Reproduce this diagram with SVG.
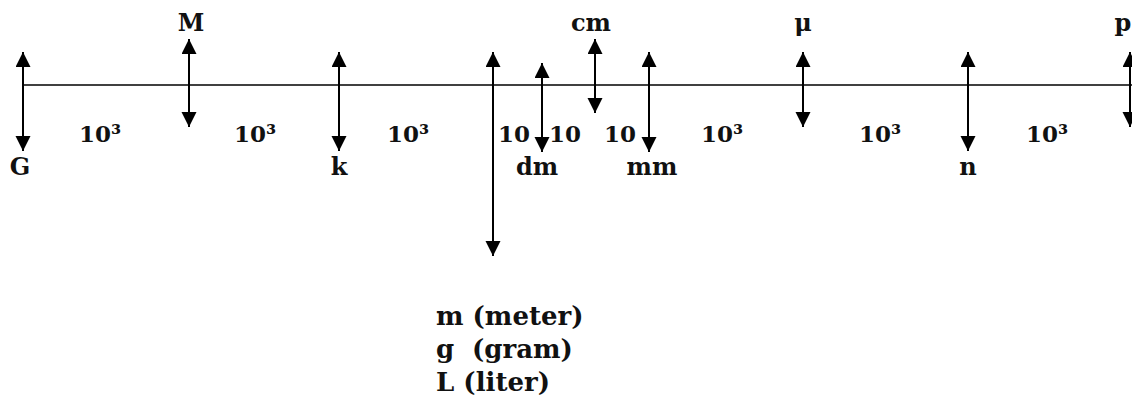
<svg xmlns="http://www.w3.org/2000/svg" width="1132" height="407" viewBox="0 0 1132 407">
<style>
.t{font-family:"DejaVu Serif","Liberation Serif",serif;font-weight:bold;fill:#111;}
.lbl{font-size:24px;text-anchor:middle;}
.num{font-size:23px;text-anchor:middle;}
.big{font-size:26px;}
.arr{stroke:#000;stroke-width:2;fill:none;marker-start:url(#ah);marker-end:url(#ah);}
.axis{stroke:#000;stroke-width:1.5;}
</style>
<defs>
<marker id="ah" markerUnits="userSpaceOnUse" markerWidth="16" markerHeight="16" refX="15" refY="7.5" orient="auto-start-reverse">
<path d="M0,0 L15,7.5 L0,15 z" fill="#000"/>
</marker>
</defs>
<rect width="1132" height="407" fill="#fff"/>
<g id="connectors">
<line class="axis" x1="23" y1="85" x2="1132" y2="85"/>
<line class="arr" x1="23" y1="52" x2="23" y2="151"/>
<line class="arr" x1="189" y1="39" x2="189" y2="127"/>
<line class="arr" x1="339" y1="52" x2="339" y2="151"/>
<line class="arr" x1="493" y1="52" x2="493" y2="256"/>
<line class="arr" x1="542" y1="63" x2="542" y2="152"/>
<line class="arr" x1="595" y1="39" x2="595" y2="113"/>
<line class="arr" x1="649" y1="52" x2="649" y2="152"/>
<line class="arr" x1="803" y1="52" x2="803" y2="127"/>
<line class="arr" x1="968" y1="52" x2="968" y2="151"/>
<line class="arr" x1="1130" y1="52" x2="1130" y2="127"/>
</g>
<g id="node-G"><text class="t lbl" x="20" y="175">G</text></g>
<g id="node-M"><text class="t lbl" x="191" y="31">M</text></g>
<g id="node-k"><text class="t lbl" x="339" y="175">k</text></g>
<g id="node-dm"><text class="t lbl" x="537" y="175">dm</text></g>
<g id="node-cm"><text class="t lbl" x="591" y="31">cm</text></g>
<g id="node-mm"><text class="t lbl" x="652" y="175">mm</text></g>
<g id="node-mu"><text class="t lbl" x="803" y="31">μ</text></g>
<g id="node-n"><text class="t lbl" x="968" y="175">n</text></g>
<g id="node-p"><text class="t lbl" x="1123" y="31">p</text></g>
<g id="factors">
<text class="t num" x="100" y="142">10³</text>
<text class="t num" x="255" y="142">10³</text>
<text class="t num" x="408" y="142">10³</text>
<text class="t num" x="514" y="142">10</text>
<text class="t num" x="565" y="142">10</text>
<text class="t num" x="620" y="142">10</text>
<text class="t num" x="722" y="142">10³</text>
<text class="t num" x="880" y="142">10³</text>
<text class="t num" x="1047" y="142">10³</text>
</g>
<g id="node-base">
<text class="t big" x="436" y="325">m (meter)</text>
<text class="t big" x="436" y="358">g <tspan x="472">(gram)</tspan></text>
<text class="t big" x="436" y="391">L (liter)</text>
</g>
</svg>
